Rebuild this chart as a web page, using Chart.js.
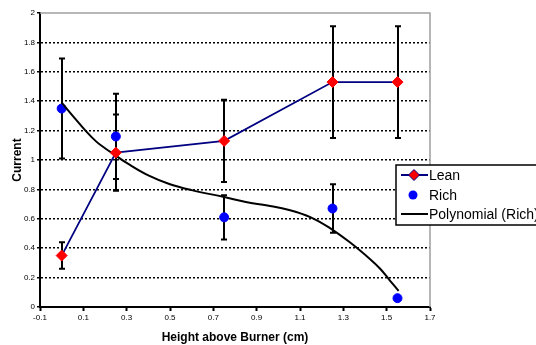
<!DOCTYPE html>
<html>
<head>
<meta charset="utf-8">
<script src="https://cdn.jsdelivr.net/npm/chart.js@4.4.0/dist/chart.umd.min.js"></script>
<style>
html, body { margin: 0; padding: 0; background: #fff; }
</style>
</head>
<body>
<canvas id="myChart" width="536" height="345"></canvas>
<script>
// values
const leanX = [0, 0.25, 0.75, 1.25, 1.55];
const leanY = [0.35, 1.05, 1.13, 1.53, 1.53];
const leanErr = [0.09, 0.26, 0.28, 0.38, 0.38];

const richX = [0, 0.25, 0.75, 1.25, 1.55];
const richY = [1.35, 1.16, 0.61, 0.67, 0.06];
const richErr = [0.34, 0.29, 0.15, 0.165, 0];

// polynomial trendline (Rich), sampled from the drawn curve
const trendX = [0, 0.06, 0.11, 0.16, 0.2, 0.25, 0.3, 0.4, 0.5, 0.6, 0.75, 0.85, 0.95, 1.05, 1.15, 1.24, 1.33, 1.42, 1.47, 1.515, 1.555];
const trendY = [1.39, 1.285, 1.2, 1.125, 1.08, 1.03, 0.98, 0.895, 0.835, 0.795, 0.748, 0.714, 0.69, 0.66, 0.61, 0.535, 0.44, 0.33, 0.26, 0.18, 0.11];

const xTicks = [-0.1, 0.1, 0.3, 0.5, 0.7, 0.9, 1.1, 1.3, 1.5, 1.7];
const yTicks = [0, 0.2, 0.4, 0.6, 0.8, 1, 1.2, 1.4, 1.6, 1.8, 2];

const legendNames = ['Lean', 'Rich', 'Polynomial (Rich)'];

function pts(xs, ys) {
    return xs.map((x, i) => ({ x: x, y: ys[i] }));
}

// error bars, drawn under the markers
const errorBars = {
    id: 'errorBars',
    beforeDatasetsDraw(chart) {
        const ctx = chart.ctx;
        const xs = chart.scales.x, ys = chart.scales.y;
        const sets = [[leanX, leanY, leanErr], [richX, richY, richErr]];
        ctx.save();
        ctx.strokeStyle = '#000';
        ctx.lineWidth = 2;
        sets.forEach(function (s) {
            s[0].forEach(function (x, i) {
                const e = s[2][i];
                if (!e) return;
                const px = Math.round(xs.getPixelForValue(x));
                const top = ys.getPixelForValue(s[1][i] + e);
                const bot = ys.getPixelForValue(s[1][i] - e);
                ctx.beginPath();
                ctx.moveTo(px, top); ctx.lineTo(px, bot);
                ctx.moveTo(px - 3, top); ctx.lineTo(px + 3, top);
                ctx.moveTo(px - 3, bot); ctx.lineTo(px + 3, bot);
                ctx.stroke();
            });
        });
        ctx.restore();
    }
};

// grey top and right edges of the plot area
const plotFrame = {
    id: 'plotFrame',
    beforeDatasetsDraw(chart) {
        const a = chart.chartArea, ctx = chart.ctx;
        ctx.save();
        ctx.strokeStyle = '#a0a0a0';
        ctx.lineWidth = 1.5;
        ctx.beginPath();
        ctx.moveTo(a.left, a.top);
        ctx.lineTo(a.right, a.top);
        ctx.lineTo(a.right, a.bottom);
        ctx.stroke();
        ctx.restore();
    }
};

// boxed legend that runs off the right edge, like the original
const boxLegend = {
    id: 'boxLegend',
    afterDraw(chart) {
        const ctx = chart.ctx;
        const bx = 396, by = 165, bw = 150, bh = 60;
        ctx.save();
        ctx.fillStyle = '#fff';
        ctx.fillRect(bx, by, bw, bh);
        ctx.strokeStyle = '#000';
        ctx.lineWidth = 1.5;
        ctx.strokeRect(bx, by, bw, bh);

        const rows = [175, 195, 214];
        ctx.font = '14px "Liberation Sans", Arial, sans-serif';
        ctx.fillStyle = '#000';
        ctx.textBaseline = 'middle';
        rows.forEach(function (y, i) {
            ctx.fillText(legendNames[i], 429, y + 1);
        });

        // Lean: navy line + red diamond
        ctx.strokeStyle = '#000080';
        ctx.lineWidth = 2;
        ctx.beginPath(); ctx.moveTo(401, rows[0]); ctx.lineTo(428, rows[0]); ctx.stroke();
        ctx.fillStyle = '#ff0000';
        ctx.beginPath();
        ctx.moveTo(414, rows[0] - 5.5); ctx.lineTo(419.5, rows[0]);
        ctx.lineTo(414, rows[0] + 5.5); ctx.lineTo(408.5, rows[0]);
        ctx.closePath(); ctx.fill();
        ctx.lineWidth = 1; ctx.stroke();

        // Rich: blue dot
        ctx.fillStyle = '#0000ff';
        ctx.beginPath(); ctx.arc(413, rows[1], 4.5, 0, Math.PI * 2); ctx.fill();

        // trendline
        ctx.strokeStyle = '#000';
        ctx.lineWidth = 2;
        ctx.beginPath(); ctx.moveTo(401, rows[2]); ctx.lineTo(428, rows[2]); ctx.stroke();
        ctx.restore();
    }
};

const tickFont = { family: '"Liberation Sans", Arial, sans-serif', size: 8 };

new Chart(document.getElementById('myChart').getContext('2d'), {
    type: 'scatter',
    data: {
        datasets: [
            {
                label: 'Lean',
                data: pts(leanX, leanY),
                showLine: true,
                borderColor: '#000080',
                borderWidth: 1.75,
                pointStyle: 'rectRot',
                pointRadius: 5.5,
                pointBackgroundColor: '#ff0000',
                pointBorderColor: '#ff0000',
                pointBorderWidth: 1,
                order: 0
            },
            {
                label: 'Polynomial (Rich)',
                data: pts(trendX, trendY),
                showLine: true,
                borderColor: '#000',
                borderWidth: 2,
                pointRadius: 0,
                tension: 0.4,
                order: 1
            },
            {
                label: 'Rich',
                data: pts(richX, richY),
                showLine: false,
                pointStyle: 'circle',
                pointRadius: 4.5,
                pointBackgroundColor: '#0000ff',
                pointBorderColor: '#0000ff',
                order: 2
            }
        ]
    },
    options: {
        responsive: false,
        animation: false,
        devicePixelRatio: 1,
        layout: { padding: { left: 0, top: 13, right: 106, bottom: 0 } },
        plugins: {
            legend: { display: false },
            tooltip: { enabled: false }
        },
        scales: {
            x: {
                type: 'linear',
                min: -0.1,
                max: 1.7,
                afterBuildTicks: function (s) { s.ticks = xTicks.map(v => ({ value: v })); },
                afterFit: function (s) { s.height = 38; },
                ticks: {
                    autoSkip: false,
                    maxRotation: 0,
                    font: tickFont,
                    color: '#000',
                    padding: 2,
                    callback: v => String(parseFloat(v.toFixed(1)))
                },
                grid: {
                    drawOnChartArea: false,
                    drawTicks: true,
                    tickLength: 4,
                    tickWidth: 2,
                    tickColor: '#000'
                },
                border: { color: '#000', width: 2 },
                title: {
                    display: true,
                    text: 'Height above Burner (cm)',
                    color: '#000',
                    font: { family: '"Liberation Sans", Arial, sans-serif', size: 12, weight: 'bold' },
                    padding: { top: 0, bottom: 0 }
                }
            },
            y: {
                min: 0,
                max: 2,
                afterBuildTicks: function (s) { s.ticks = yTicks.map(v => ({ value: v })); },
                afterFit: function (s) { s.width = 40; },
                ticks: {
                    font: tickFont,
                    color: '#000',
                    padding: 2,
                    callback: v => String(parseFloat(v.toFixed(1)))
                },
                grid: {
                    color: c => (c.tick && (c.tick.value === 0 || c.tick.value === 2)) ? 'rgba(0,0,0,0)' : '#000',
                    lineWidth: 1.5,
                    tickLength: 3,
                    tickWidth: 1.5,
                    tickColor: '#000'
                },
                border: { color: '#000', width: 2, dash: [2, 2] },
                title: {
                    display: true,
                    text: 'Current',
                    color: '#000',
                    font: { family: '"Liberation Sans", Arial, sans-serif', size: 12, weight: 'bold' },
                    padding: { top: 10, bottom: 0 }
                }
            }
        }
    },
    plugins: [plotFrame, errorBars, boxLegend]
});
</script>
</body>
</html>
